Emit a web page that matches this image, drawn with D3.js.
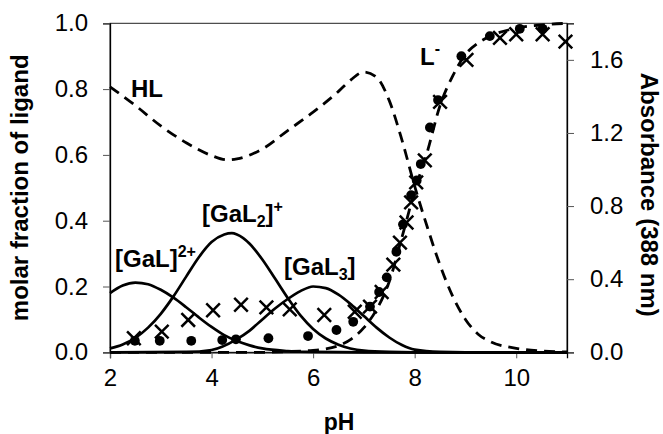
<!DOCTYPE html>
<html>
<head>
<meta charset="utf-8">
<script src="https://cdn.jsdelivr.net/npm/d3@7"></script>
<style>
    body { margin: 0; background: #fff; }
    text { font-family: "Liberation Sans", Arial, sans-serif; fill: #000; }
</style>
</head>
<body>
<svg id="chart" width="663" height="434"></svg>
<script>
// Tick values
const xTicks = [2, 4, 6, 8, 10];
const yTicks = [0, 0.2, 0.4, 0.6, 0.8, 1.0];
const y2Ticks = [0, 0.4, 0.8, 1.2, 1.6];

// Species distribution curves, [pH, molar fraction]
const galCurve = [[2.0, 0.18], [2.25, 0.203], [2.5, 0.212], [2.75, 0.207], [3.0, 0.19], [3.25, 0.166],
    [3.5, 0.137], [3.75, 0.106], [4.0, 0.077], [4.25, 0.052], [4.5, 0.034], [4.75, 0.021], [5.0, 0.012],
    [5.5, 0.004], [6.0, 0.001], [7.0, 0], [11.0, 0]];
const gal2Curve = [[2.0, 0.012], [2.25, 0.024], [2.5, 0.044], [2.75, 0.075], [3.0, 0.117], [3.25, 0.17],
    [3.5, 0.23], [3.75, 0.289], [4.0, 0.335], [4.25, 0.358], [4.4, 0.362], [4.5, 0.358], [4.75, 0.33],
    [5.0, 0.282], [5.25, 0.224], [5.5, 0.165], [5.75, 0.112], [6.0, 0.071], [6.25, 0.042], [6.5, 0.023],
    [7.0, 0.005], [7.5, 0.001], [8.0, 0], [11.0, 0]];
const gal3Curve = [[2.0, 0], [3.5, 0.001], [4.0, 0.007], [4.5, 0.04], [4.75, 0.066], [5.0, 0.1], [5.25, 0.133],
    [5.5, 0.162], [5.75, 0.186], [6.0, 0.2], [6.25, 0.195], [6.5, 0.175], [6.75, 0.145], [7.0, 0.11],
    [7.25, 0.075], [7.5, 0.045], [7.75, 0.022], [8.0, 0.008], [8.5, 0.001], [9.0, 0], [11.0, 0]];
const hlCurve = [[2.0, 0.807], [2.5, 0.75], [3.0, 0.688], [3.5, 0.637], [4.0, 0.598], [4.3, 0.585], [4.5, 0.588],
    [5.0, 0.618], [5.5, 0.674], [6.0, 0.73], [6.5, 0.793], [6.75, 0.829], [7.0, 0.852], [7.25, 0.836],
    [7.5, 0.765], [7.75, 0.645], [8.0, 0.505], [8.25, 0.38], [8.5, 0.265], [8.75, 0.17], [9.0, 0.1],
    [9.25, 0.055], [9.5, 0.032], [10.0, 0.012], [10.5, 0.004], [11.0, 0.001]];
const lCurve = [[2.0, 0], [5.0, 0], [5.5, 0.002], [6.0, 0.006], [6.25, 0.01], [6.5, 0.02], [6.75, 0.04],
    [7.0, 0.075], [7.25, 0.13], [7.5, 0.215], [7.75, 0.35], [8.0, 0.49], [8.25, 0.61], [8.5, 0.75],
    [8.75, 0.84], [9.0, 0.905], [9.25, 0.94], [9.5, 0.962], [10.0, 0.985], [10.5, 0.995], [11.0, 1.0]];

// Measured absorbance at 388 nm, [pH, A]
const circlePts = [[2.49, 0.063], [2.98, 0.063], [3.6, 0.063], [4.21, 0.067], [4.48, 0.071], [5.12, 0.077],
    [5.9, 0.089], [6.46, 0.122], [6.79, 0.167], [7.12, 0.25], [7.3, 0.33], [7.45, 0.41], [7.64, 0.55],
    [7.77, 0.7], [7.93, 0.86], [8.04, 0.94], [8.12, 1.03], [8.3, 1.23], [8.46, 1.38], [8.92, 1.62],
    [9.48, 1.73], [10.07, 1.77], [10.52, 1.77]];
const crossPts = [[2.47, 0.077], [3.02, 0.113], [3.54, 0.177], [4.03, 0.23], [4.58, 0.26], [5.08, 0.246],
    [5.54, 0.235], [6.22, 0.204], [6.82, 0.222], [7.12, 0.25], [7.35, 0.33], [7.58, 0.48], [7.71, 0.6],
    [7.84, 0.71], [7.93, 0.82], [8.03, 0.93], [8.2, 1.05], [8.5, 1.37], [9.02, 1.6], [9.68, 1.72],
    [10.0, 1.74], [10.52, 1.74], [10.97, 1.7]];

const svg = d3.select('#chart');
const plot = { left: 110, right: 567, top: 23.3, bottom: 352.3 };

const x = d3.scaleLinear().domain([2, 11]).range([plot.left, plot.right]);
const y = d3.scaleLinear().domain([0, 1]).range([plot.bottom, plot.top]);
const y2 = d3.scaleLinear().domain([0, 1.8]).range([plot.bottom, plot.top]);

// frame
svg.append('rect')
    .attr('x', plot.left).attr('y', plot.top)
    .attr('width', plot.right - plot.left).attr('height', plot.bottom - plot.top)
    .attr('fill', 'none').attr('stroke', '#222').attr('stroke-width', 1);

// axes
const fmt = d3.format('.1f');
const leftAxis = svg.append('g')
    .attr('transform', `translate(${plot.left},0)`)
    .call(d3.axisLeft(y).tickValues(yTicks).tickFormat(fmt).tickSize(7).tickPadding(15));
const rightAxis = svg.append('g')
    .attr('transform', `translate(${plot.right},0)`)
    .call(d3.axisRight(y2).tickValues(y2Ticks).tickFormat(fmt).tickSize(7).tickPadding(16));
const bottomAxis = svg.append('g')
    .attr('transform', `translate(0,${plot.bottom})`)
    .call(d3.axisBottom(x).tickValues(xTicks).tickFormat(d3.format('d')).tickSize(6).tickPadding(11));

[leftAxis, rightAxis, bottomAxis].forEach(g => {
    g.selectAll('text').attr('font-size', 24).attr('font-family', '"Liberation Sans", Arial, sans-serif').attr('fill', '#000');
    g.selectAll('.tick line').attr('stroke', '#555');
    g.select('.domain').attr('stroke', '#000').attr('stroke-width', 1.3);
});

// curves
const line = d3.line()
    .x(d => x(d[0]))
    .y(d => y(d[1]))
    .curve(d3.curveMonotoneX);

[galCurve, gal2Curve, gal3Curve].forEach(c => {
    svg.append('path').datum(c)
        .attr('d', line)
        .attr('fill', 'none').attr('stroke', '#000').attr('stroke-width', 2.7);
});
[hlCurve, lCurve].forEach(c => {
    svg.append('path').datum(c)
        .attr('d', line)
        .attr('fill', 'none').attr('stroke', '#000').attr('stroke-width', 2.8)
        .attr('stroke-dasharray', '11,7');
});

// absorbance markers
svg.append('g').selectAll('circle')
    .data(circlePts)
    .enter().append('circle')
    .attr('cx', d => x(d[0]))
    .attr('cy', d => y2(d[1]))
    .attr('r', 4.9)
    .attr('fill', '#000');

const cs = 6.8;
svg.append('g').selectAll('path')
    .data(crossPts)
    .enter().append('path')
    .attr('d', d => {
        const cx = x(d[0]), cy = y2(d[1]);
        return `M${cx - cs},${cy - cs}L${cx + cs},${cy + cs}M${cx - cs},${cy + cs}L${cx + cs},${cy - cs}`;
    })
    .attr('stroke', '#000').attr('stroke-width', 2.5).attr('fill', 'none');

// axis titles
svg.append('text')
    .attr('transform', `translate(28,${(plot.top + plot.bottom) / 2}) rotate(-90)`)
    .attr('text-anchor', 'middle').attr('font-size', 24).attr('font-weight', 'bold')
    .text('molar fraction of ligand');
svg.append('text')
    .attr('transform', `translate(641,${(plot.top + plot.bottom) / 2 + 7}) rotate(90)`)
    .attr('text-anchor', 'middle').attr('font-size', 24).attr('font-weight', 'bold')
    .text('Absorbance (388 nm)');
svg.append('text')
    .attr('x', 339).attr('y', 430)
    .attr('text-anchor', 'middle').attr('font-size', 23).attr('font-weight', 'bold')
    .text('pH');

// species labels
function label(px, py, parts) {
    const t = svg.append('text').attr('x', px).attr('y', py)
        .attr('font-size', 24).attr('font-weight', 'bold');
    parts.forEach(p => {
        t.append('tspan')
            .attr('font-size', p.size || 24)
            .attr('dy', p.dy || 0)
            .text(p.text);
    });
}
label(131, 97, [{ text: 'HL' }]);
label(420, 65, [{ text: 'L' }, { text: '-', size: 16, dy: -11 }]);
label(115, 267, [{ text: '[GaL]' }, { text: '2+', size: 16, dy: -10 }]);
label(202, 222, [{ text: '[GaL' }, { text: '2', size: 16, dy: 5 }, { text: ']', dy: -5 }, { text: '+', size: 16, dy: -10 }]);
label(284, 275, [{ text: '[GaL' }, { text: '3', size: 16, dy: 5 }, { text: ']', dy: -5 }]);
</script>
</body>
</html>
